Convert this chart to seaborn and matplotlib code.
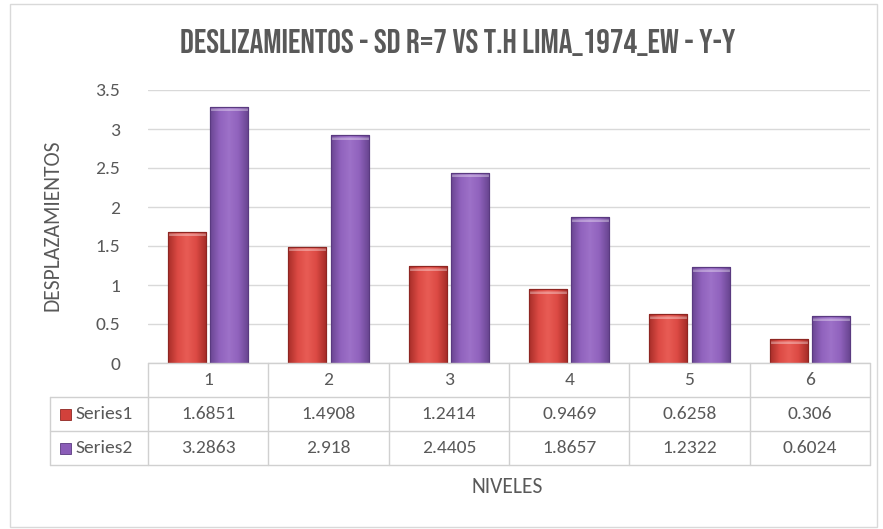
import numpy as np
import pandas as pd
import matplotlib
matplotlib.use("Agg")
import matplotlib.pyplot as plt
import seaborn as sns
from matplotlib.patches import Rectangle
from matplotlib.colors import LinearSegmentedColormap

# ---- data ----
niveles = ["1", "2", "3", "4", "5", "6"]
series_names = ["Series1", "Series2"]
series1 = [1.6851, 1.4908, 1.2414, 0.9469, 0.6258, 0.306]
series2 = [3.2863, 2.918, 2.4405, 1.8657, 1.2322, 0.6024]
series1_txt = ["1.6851", "1.4908", "1.2414", "0.9469", "0.6258", "0.306"]
series2_txt = ["3.2863", "2.918", "2.4405", "1.8657", "1.2322", "0.6024"]
yticks = [0, 0.5, 1, 1.5, 2, 2.5, 3, 3.5]
ytick_labels = ["0", "0.5", "1", "1.5", "2", "2.5", "3", "3.5"]
title = "DESLIZAMIENTOS - SD R=7 VS T.H LIMA_1974_EW - Y-Y"

df = pd.DataFrame({
    "nivel": niveles * 2,
    "serie": [series_names[0]] * 6 + [series_names[1]] * 6,
    "valor": series1 + series2,
})

sns.set_theme(style="white")
BODY = ["Carlito", "Liberation Sans", "DejaVu Sans"]
TITLE_F = ["Bebas Neue", "Saira Extra Condensed", "Barlow Condensed", "DejaVu Sans"]
plt.rcParams["font.family"] = BODY

W, H = 883, 529
fig = plt.figure(figsize=(W / 100, H / 100), dpi=100)

def fx(px):
    return px / W

def fy(py):
    return 1 - py / H

ax_l, ax_r, ax_t, ax_b = 148, 870, 90, 363
ax = fig.add_axes([fx(ax_l), fy(ax_b), fx(ax_r) - fx(ax_l), fy(ax_t) - fy(ax_b)])

colors = {"Series1": "#d2413b", "Series2": "#8b5db8"}
edges = {"Series1": "#8e2622", "Series2": "#5a3a80"}
grad = {
    "Series1": ["#a82e29", "#dc4a44", "#e85c55", "#dc4a44", "#a82e29"],
    "Series2": ["#6a4692", "#9062bd", "#9d71c8", "#9062bd", "#6a4692"],
}
sns.barplot(data=df, x="nivel", y="valor", hue="serie", order=niveles,
            hue_order=series_names, palette=colors, width=0.7, gap=0.1,
            ax=ax, legend=False, saturation=1)

ax.set_xlim(-0.5, 5.5)
ax.set_ylim(0, 3.5)

for cont, name in zip(ax.containers, series_names):
    cmap = LinearSegmentedColormap.from_list(name, grad[name])
    g = np.linspace(0, 1, 64).reshape(1, -1)
    for p in cont:
        p.set_edgecolor(edges[name])
        p.set_linewidth(0.8)
        p.set_zorder(3)
        x0, y0 = p.get_x(), p.get_y()
        w, h = p.get_width(), p.get_height()
        im = ax.imshow(g, cmap=cmap, aspect="auto", extent=[x0, x0 + w, y0, y0 + h],
                       zorder=3.5, interpolation="bilinear")
        im.set_clip_path(p)
        # light bevel at the top of each bar
        top = ax.imshow(np.array([[0.0], [1.0]]), cmap=LinearSegmentedColormap.from_list(
            name + "t", [(1, 1, 1, 0.0), (1, 1, 1, 0.35)]), aspect="auto",
            extent=[x0, x0 + w, y0 + h - 0.06, y0 + h], zorder=3.6)
        top.set_clip_path(p)
        edge = Rectangle((x0, y0), w, h, fill=False, edgecolor=edges[name], lw=0.8, zorder=3.7)
        ax.add_patch(edge)

ax.set_xlim(-0.5, 5.5)
ax.set_ylim(0, 3.5)
ax.set_yticks(yticks)
ax.set_yticklabels(ytick_labels, color="#595959", fontsize=14)
ax.set_xticks([])
ax.set_xlabel("")
ax.set_ylabel("")
ax.yaxis.grid(True, color="#d9d9d9", linewidth=1.0)
ax.set_axisbelow(True)
for s in ax.spines.values():
    s.set_visible(False)
ax.tick_params(axis="y", length=0, pad=20)

# ---- data table ----
line_c = "#d0d0d0"
tc = "#595959"
fs = 14
rows_y = [363, 397, 431, 465]
col_w = (ax_r - ax_l) / 6
fig.add_artist(plt.Line2D([fx(ax_l), fx(ax_r)], [fy(rows_y[0])] * 2, color=line_c, lw=1))
for yy in rows_y[1:]:
    fig.add_artist(plt.Line2D([fx(50), fx(ax_r)], [fy(yy)] * 2, color=line_c, lw=1))
fig.add_artist(plt.Line2D([fx(50)] * 2, [fy(rows_y[1]), fy(rows_y[3])], color=line_c, lw=1))
for k in range(7):
    xx = ax_l + k * col_w
    fig.add_artist(plt.Line2D([fx(xx)] * 2, [fy(rows_y[0]), fy(rows_y[3])], color=line_c, lw=1))

for k in range(6):
    cx = ax_l + (k + 0.5) * col_w
    fig.text(fx(cx), fy(380), niveles[k], ha="center", va="center", color=tc, fontsize=fs)
    fig.text(fx(cx), fy(414), series1_txt[k], ha="center", va="center", color=tc, fontsize=fs)
    fig.text(fx(cx), fy(448), series2_txt[k], ha="center", va="center", color=tc, fontsize=fs)

for name, yy in zip(series_names, [414, 448]):
    fig.add_artist(Rectangle((fx(60), fy(yy + 6)), fx(11), 11 / H, facecolor=colors[name],
                             edgecolor=edges[name], lw=0.6, transform=fig.transFigure))
    fig.text(fx(76), fy(yy), name, ha="left", va="center", color=tc, fontsize=fs)

# ---- titles ----
t = fig.text(fx(458), fy(42), title, ha="center", va="center", color="#595959",
             fontsize=24, fontweight="bold", family=TITLE_F)
fig.canvas.draw()
bb = t.get_window_extent()
t.set_fontsize(24 * 557 / bb.width)

fig.text(fx(53), fy(225), "DESPLAZAMIENTOS", rotation=90, ha="center", va="center",
         color=tc, fontsize=15.5)
fig.text(fx(507), fy(487), "NIVELES", ha="center", va="center", color=tc, fontsize=15.5)

fig.add_artist(Rectangle((fx(10), fy(527)), fx(877) - fx(10), fy(4) - fy(527), fill=False,
                         edgecolor="#d9d9d9", lw=1, transform=fig.transFigure))

fig.savefig("out.png", dpi=100, facecolor="white")
